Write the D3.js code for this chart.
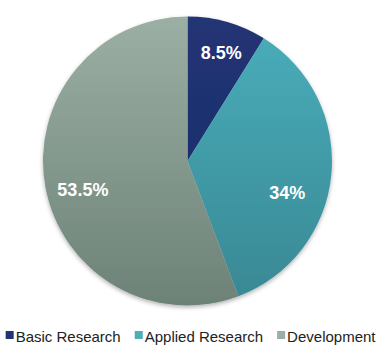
<!DOCTYPE html>
<html>
<head>
<meta charset="utf-8">
<script src="https://cdn.jsdelivr.net/npm/d3@7"></script>
<style>
  body { margin: 0; background: #fff; }
  svg { display: block; font-family: "Liberation Sans", Arial, sans-serif; }
</style>
</head>
<body>
<svg width="392" height="354"></svg>
<script>
// data
let categories = ["Basic Research", "Applied Research", "Development"],
    values = [8.5, 34, 53.5],
    labels = ["8.5%", "34%", "53.5%"];

let colorsTop = ["#213474", "#4aaebb", "#9bafa5"],
    colorsBottom = ["#1a2a68", "#388893", "#6d8277"];
// small nudges so labels sit where the original put them
let labelShift = [[4, -4], [-8, 21], [2, 9]];

let svg = d3.select("svg"),
    cx = 187.5, cy = 161, r = 144.5;

let defs = svg.append("defs");

let shadow = defs.append("filter")
    .attr("id", "shadow")
    .attr("x", "-10%").attr("y", "-10%")
    .attr("width", "120%").attr("height", "125%");
shadow.append("feDropShadow")
    .attr("dx", 0).attr("dy", 2)
    .attr("stdDeviation", 2)
    .attr("flood-color", "#000")
    .attr("flood-opacity", 0.3);

categories.forEach((c, i) => {
    let grad = defs.append("linearGradient")
        .attr("id", "grad" + i)
        .attr("gradientUnits", "userSpaceOnUse")
        .attr("x1", 0).attr("y1", -r)
        .attr("x2", 0).attr("y2", r);
    grad.append("stop").attr("offset", "0%").attr("stop-color", colorsTop[i]);
    grad.append("stop").attr("offset", "100%").attr("stop-color", colorsBottom[i]);
});

let pie = d3.pie().sort(null).value(d => d)(values);
let arc = d3.arc().innerRadius(0).outerRadius(r);
let labelArc = d3.arc().innerRadius(0).outerRadius(r * 1.5);

let g = svg.append("g").attr("transform", `translate(${cx},${cy})`);

g.append("g")
    .attr("filter", "url(#shadow)")
    .selectAll("path")
    .data(pie)
    .join("path")
    .attr("d", arc)
    .attr("fill", (d, i) => `url(#grad${i})`);

g.selectAll("text.lbl")
    .data(pie)
    .join("text")
    .attr("class", "lbl")
    .attr("transform", (d, i) => {
        let [x, y] = labelArc.centroid(d);
        return `translate(${x + labelShift[i][0]},${y + labelShift[i][1]})`;
    })
    .attr("text-anchor", "middle")
    .attr("dy", "0.35em")
    .attr("fill", "#fff")
    .attr("font-weight", "bold")
    .attr("font-size", "18px")
    .text((d, i) => labels[i]);

// legend
let legend = svg.append("g").attr("transform", "translate(0,337)");
let items = legend.selectAll("g")
    .data(categories)
    .join("g");
items.append("rect")
    .attr("y", -6)
    .attr("width", 8).attr("height", 8)
    .attr("fill", (d, i) => colorsTop[i]);
items.append("text")
    .attr("x", 10)
    .attr("y", 0)
    .attr("dy", "0.3em")
    .attr("font-size", "15px")
    .attr("fill", "#222")
    .text(d => d);

let widths = [];
items.each(function () { widths.push(this.getBBox().width); });
let gap = 14,
    total = d3.sum(widths) + gap * (widths.length - 1),
    x0 = 191 - total / 2;
items.attr("transform", (d, i) => {
    let x = x0 + d3.sum(widths.slice(0, i)) + gap * i;
    return `translate(${x},0)`;
});
</script>
</body>
</html>
